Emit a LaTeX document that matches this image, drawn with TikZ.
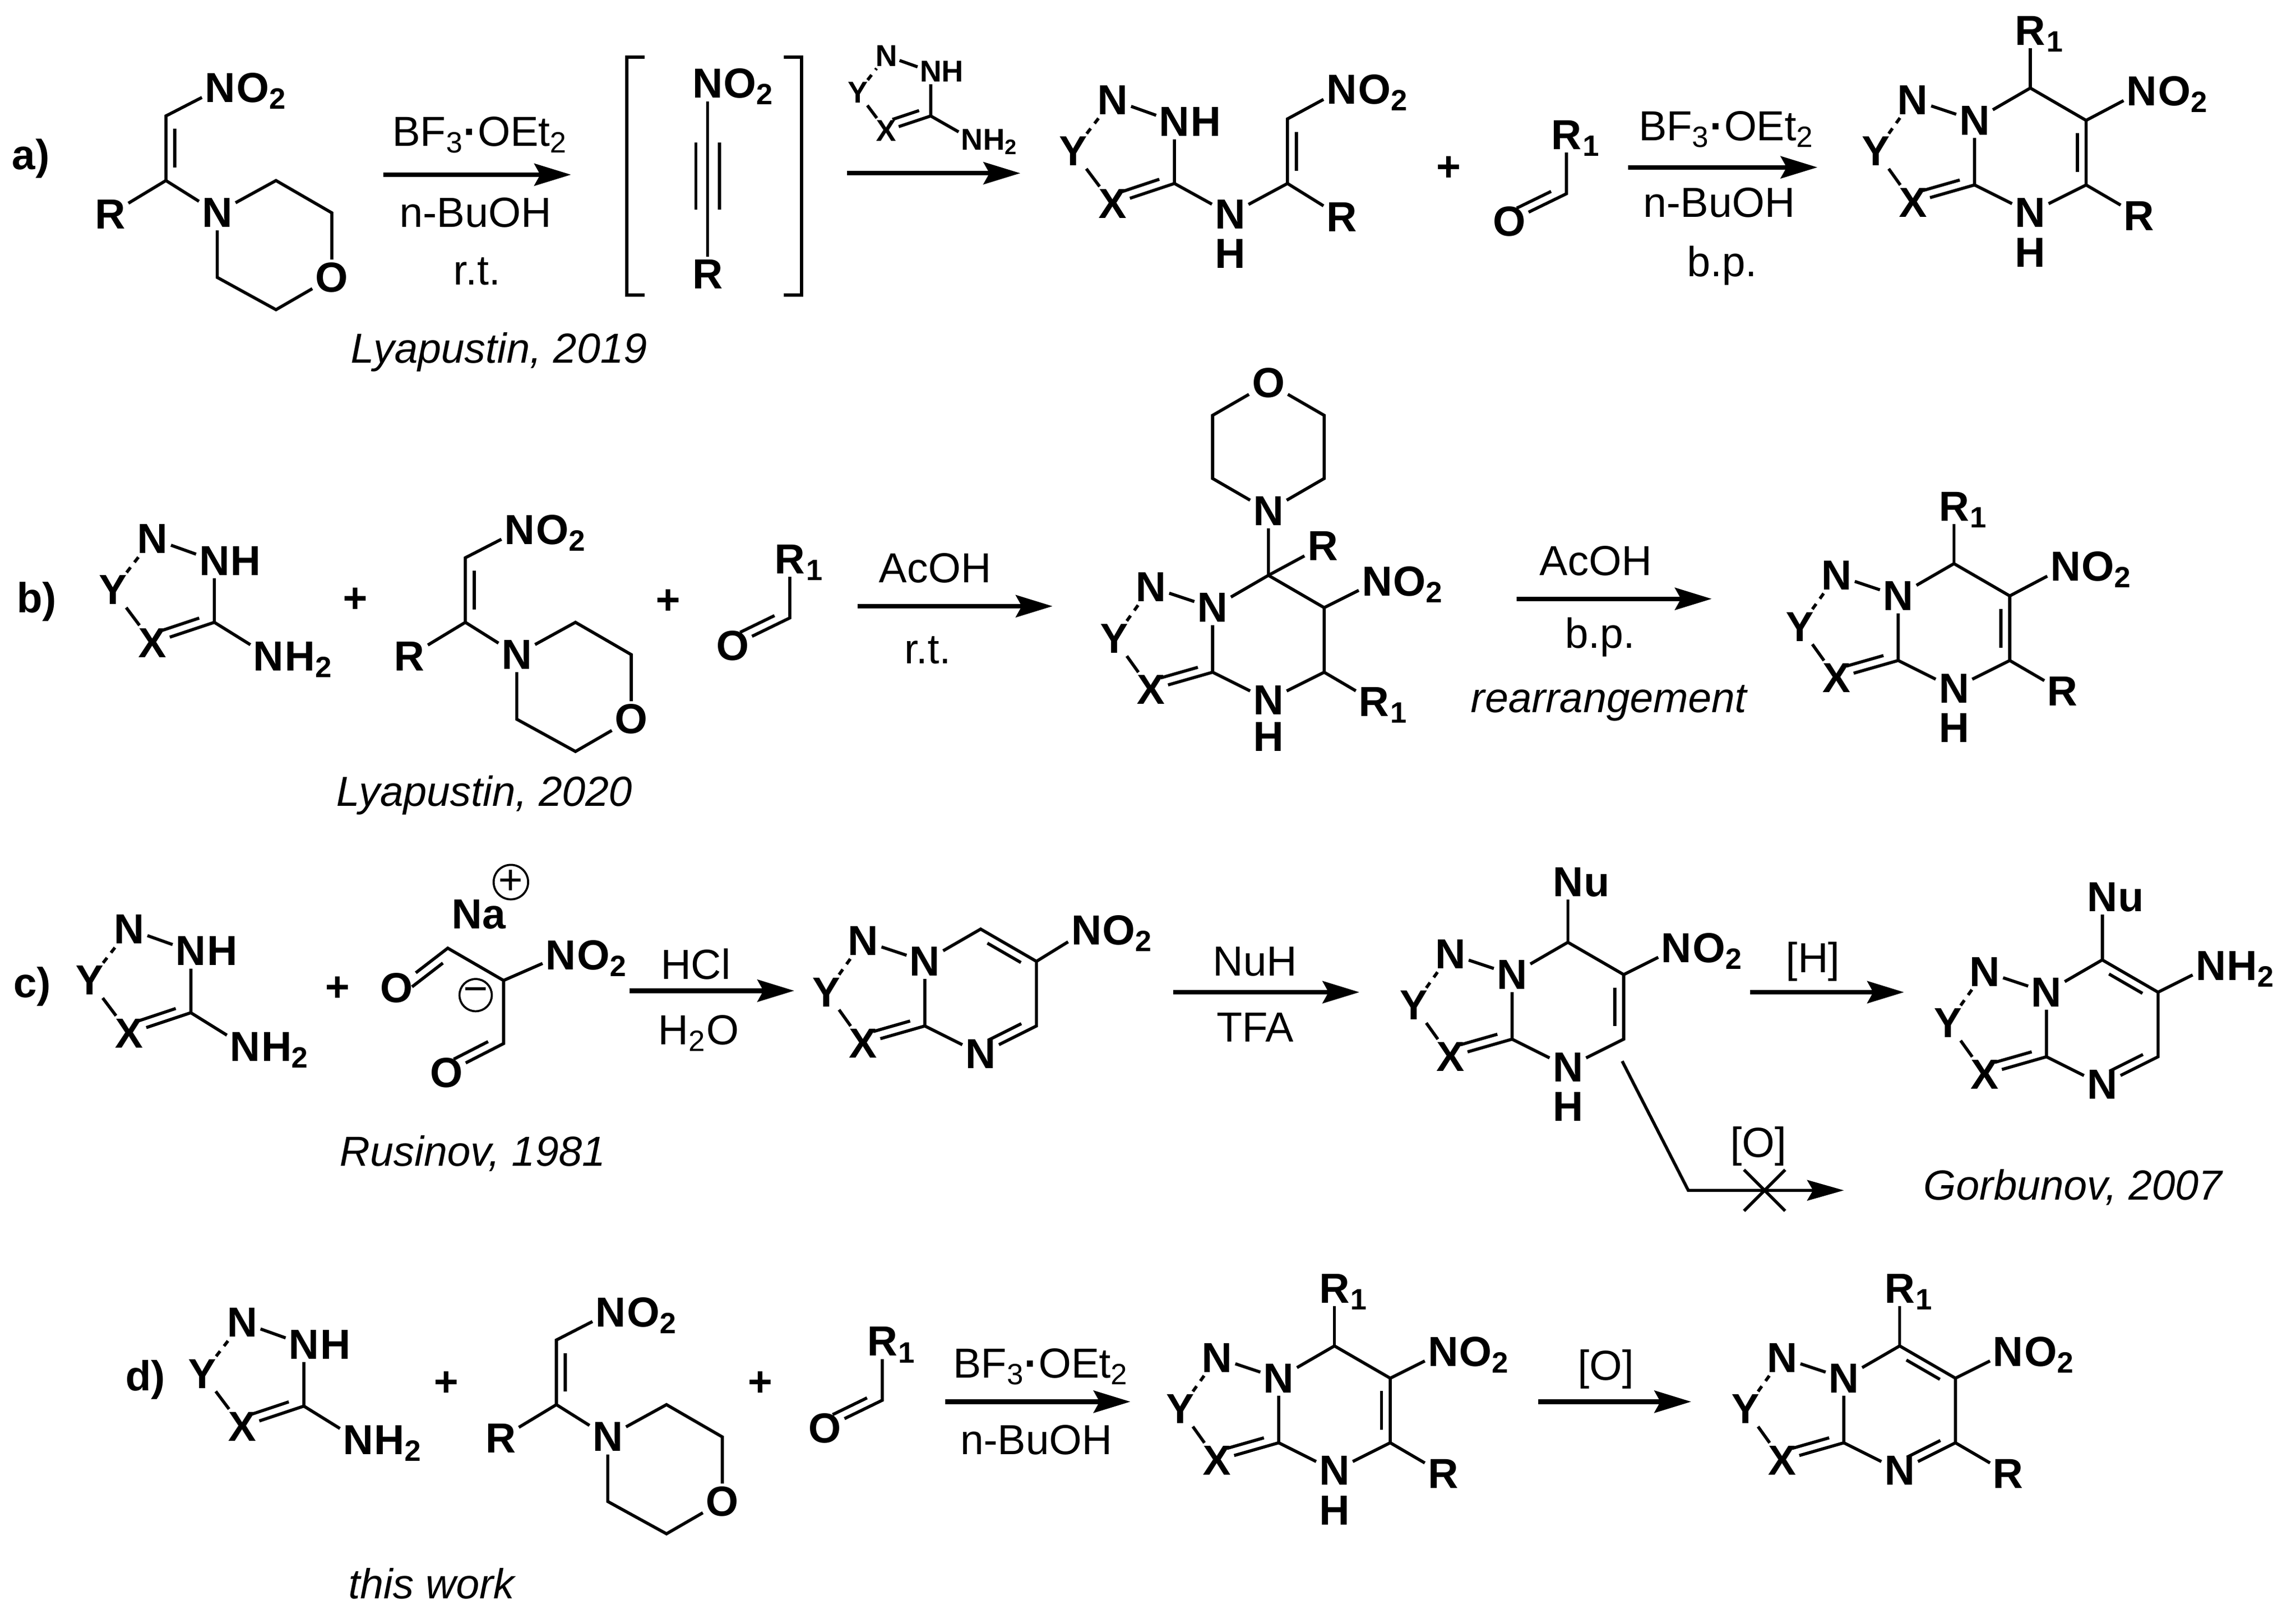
\documentclass[tikz,border=0pt]{standalone}
\usepackage{fontspec}
\setmainfont{Liberation Sans}
\usetikzlibrary{calc,arrows.meta}
\newcommand\fs{\fontsize{16.3}{19}\selectfont}
\newcommand\fss{\fontsize{11.7}{14}\selectfont}
\tikzset{
 atom/.style={font=\fs\bfseries,inner sep=1pt},
 satom/.style={font=\fss\bfseries,inner sep=0.7pt},
 tx/.style={font=\fs,inner sep=1pt},
 itx/.style={font=\fs\itshape,inner sep=1pt},
 bond/.style={line width=1.2pt},
 dbond/.style={line width=1.2pt,dash pattern=on 2.5pt off 2.5pt},
 rxn/.style={line width=1.8pt,-{Stealth[length=0.5cm,width=0.3cm,inset=0.08cm]}},
 charge/.style={circle,draw,line width=0.8pt,inner sep=0pt,minimum size=0.44cm,font=\fs}
}
\newcommand\tail[3][atom]{\node[#1,anchor=base west,inner sep=0pt] at ([xshift=-1pt]#2.base east) {#3};}
\newcommand\dbl[3]{\draw[bond] ($(#1)!.2!(#2)!0.12cm!#3:(#2)$) -- ($(#1)!.8!(#2)!0.12cm!#3:(#2)$);}
% triazole: prefix, x, y, scale, style
\newcommand\triaz[5]{%
 \begin{scope}[shift={(#2,#3)},scale=#4]
 \coordinate (#1C) at (0,0);
 \node[#5] (#1Nh) at (0,-42) {N};
 \node[#5] (#1Nt) at (-42,-57) {N};
 \node[#5] (#1Y) at (-69,-22) {Y};
 \node[#5] (#1X) at (-42,14) {X};
 \end{scope}
 \tail[#5]{#1Nh}{H}
 \draw[bond] (#1Nt)--(#1Nh)--(#1C)--(#1X)--(#1Y);
 \draw[dbond] (#1Y)--(#1Nt);
 \dbl{#1X}{#1C}{90}}
% fused bicycle: prefix, x, y of bridge N
\newcommand\fused[3]{%
 \begin{scope}[shift={(#2,#3)}]
 \node[atom] (#1Nb) at (0,0) {N};
 \node[atom] (#1Nt) at (-42,-14) {N};
 \node[atom] (#1Y) at (-67,21) {Y};
 \node[atom] (#1X) at (-42,56) {X};
 \coordinate (#1Cb) at (0,44);
 \node[atom] (#1N4) at (38,63) {N};
 \coordinate (#1C5) at (76,44);
 \coordinate (#1C6) at (76,0);
 \coordinate (#1C7) at (38,-22);
 \end{scope}
 \draw[bond] (#1Nt)--(#1Nb)--(#1C7)--(#1C6)--(#1C5)--(#1N4)--(#1Cb)--(#1Nb);
 \draw[bond] (#1Y)--(#1X)--(#1Cb);
 \draw[dbond] (#1Y)--(#1Nt);
 \dbl{#1X}{#1Cb}{90}}
% nitroenamine with morpholine: prefix, x, y of C1
\newcommand\nitmor[3]{%
 \begin{scope}[shift={(#2,#3)}]
 \coordinate (#1C1) at (0,0);
 \coordinate (#1C2) at (0,44);
 \node[atom] (#1R) at (-38,67) {R};
 \node[atom] (#1N) at (35,66) {N};
 \node[atom] (#1NO) at (37,-19) {N};
 \coordinate (#1m1) at (75,44);
 \coordinate (#1m2) at (113,66);
 \node[atom] (#1O) at (113,110) {O};
 \coordinate (#1m4) at (75,132);
 \coordinate (#1m5) at (35,110);
 \end{scope}
 \tail{#1NO}{O\textsubscript{2}}
 \draw[bond] (#1NO)--(#1C1)--(#1C2)--(#1R);
 \draw[bond] (#1C2)--(#1N)--(#1m1)--(#1m2)--(#1O)--(#1m4)--(#1m5)--(#1N);
 \dbl{#1C1}{#1C2}{90}}
% aldehyde: prefix, x, y of C
\newcommand\ald[3]{%
 \begin{scope}[shift={(#2,#3)}]
 \coordinate (#1C) at (0,0);
 \node[atom] (#1O) at (-39,19) {O};
 \node[atom] (#1R) at (0,-40) {R};
 \end{scope}
 \tail{#1R}{\textsubscript{1}}
 \draw[bond] (#1R)--(#1C)--(#1O);
 \dbl{#1C}{#1O}{-90}}
\begin{document}
\begin{tikzpicture}[x=0.02cm,y=-0.02cm]
\useasboundingbox (0,0) rectangle (1564,1100);
% ===== a) =====
\node[atom] (la) at (21,108) {a)};
\nitmor{sa}{113}{79}
\coordinate (a1s) at (261,119); \coordinate (a1e) at (389,119);
\draw[rxn] (a1s)--(a1e);
\node[tx] (a1t) at (327,92) {BF\textsubscript{3}{\bfseries·}OEt\textsubscript{2}};
\node[tx] (a1m) at (324,145) {n-BuOH};
\node[tx] (a1b) at (325,185) {r.t.};
\node[itx] (cita) at (340,240) {Lyapustin, 2019};
% alkyne in brackets
\draw[bond] (439,39)--(427,39)--(427,201)--(439,201);
\draw[bond] (534,39)--(546,39)--(546,201)--(534,201);
\node[atom] (alN) at (482,57) {N}; \tail{alN}{O\textsubscript{2}}
\node[atom] (alR) at (482,187) {R};
\draw[bond] (alN)--(alR);
\draw[bond] (474,97)--(474,143); \draw[bond] (490,97)--(490,143);
% arrow 2 with small triazole
\coordinate (a2s) at (577,118); \coordinate (a2e) at (695,118);
\draw[rxn] (a2s)--(a2e);
\triaz{st}{634}{79}{0.72}{satom}
\node[satom] (stN2) at ($(stC)+(28,16)$) {N}; \tail[satom]{stN2}{H\textsubscript{2}}
\draw[bond] (stC)--(stN2);
% intermediate
\triaz{ia}{800}{125}{1}{atom}
\node[atom] (iaN) at (838,146) {N};
\node[atom] (iaH) at (838,173) {H};
\coordinate (iaC1) at (877,125); \coordinate (iaC2) at (877,81);
\node[atom] (iaNO) at (914,61) {N}; \tail{iaNO}{O\textsubscript{2}}
\node[atom] (iaR) at (914,148) {R};
\draw[bond] (iaC)--(iaN)--(iaC1)--(iaC2)--(iaNO);
\draw[bond] (iaC1)--(iaR);
\dbl{iaC2}{iaC1}{90}
\node[atom] (pla) at (987,115) {+};
\ald{aa}{1067}{132}
\coordinate (a3s) at (1109,114); \coordinate (a3e) at (1238,114);
\draw[rxn] (a3s)--(a3e);
\node[tx] (a3t) at (1176,88) {BF\textsubscript{3}{\bfseries·}OEt\textsubscript{2}};
\node[tx] (a3m) at (1171,138) {n-BuOH};
\node[tx] (a3b) at (1173,181) {b.p.};
% product a
\fused{pa}{1345}{82}
\node[atom] (paH) at (1383,172) {H};
\node[atom] (paR1) at (1383,21) {R}; \tail{paR1}{\textsubscript{1}}
\node[atom] (paNO) at (1459,62) {N}; \tail{paNO}{O\textsubscript{2}}
\node[atom] (paR) at (1457,147) {R};
\draw[bond] (paC7)--(paR1); \draw[bond] (paC6)--(paNO); \draw[bond] (paC5)--(paR);
\dbl{paC6}{paC5}{-90}
% ===== b) =====
\node[atom] (lb) at (25,410) {b)};
\triaz{tb}{146}{424}{1}{atom}
\node[atom] (tbN2) at ($(tbC)+(37,23)$) {N}; \tail{tbN2}{H\textsubscript{2}}
\draw[bond] (tbC)--(tbN2);
\node[atom] (plb1) at (242,409) {+};
\nitmor{sb}{317}{380}
\node[atom] (plb2) at (455,410) {+};
\ald{ab}{538}{421}
\coordinate (b1s) at (584,413); \coordinate (b1e) at (717,413);
\draw[rxn] (b1s)--(b1e);
\node[tx] (b1t) at (637,387) {AcOH};
\node[tx] (b1b) at (632,443) {r.t.};
\node[itx] (citb) at (330,542) {Lyapustin, 2020};
% intermediate b
\fused{ib}{826}{414}
\node[atom] (ibH) at (864,502) {H};
\node[atom] (ibR) at (901,372) {R};
\node[atom] (ibNO) at (938,396) {N}; \tail{ibNO}{O\textsubscript{2}}
\node[atom] (ibR1) at (936,478) {R}; \tail{ibR1}{\textsubscript{1}}
\node[atom] (ibM) at (864,348) {N};
\coordinate (ibm1) at (826,326); \coordinate (ibm2) at (826,283);
\node[atom] (ibO) at (864,261) {O};
\coordinate (ibm4) at (902,283); \coordinate (ibm5) at (902,326);
\draw[bond] (ibC7)--(ibR); \draw[bond] (ibC6)--(ibNO); \draw[bond] (ibC5)--(ibR1);
\draw[bond] (ibC7)--(ibM)--(ibm1)--(ibm2)--(ibO)--(ibm4)--(ibm5)--(ibM);
\coordinate (b2s) at (1033,408); \coordinate (b2e) at (1166,408);
\draw[rxn] (b2s)--(b2e);
\node[tx] (b2t) at (1087,382) {AcOH};
\node[tx] (b2b) at (1090,434) {b.p.};
\node[itx] (b2c) at (1096,479) {rearrangement};
% product b
\fused{pb}{1293}{406}
\node[atom] (pbH) at (1331,496) {H};
\node[atom] (pbR1) at (1331,345) {R}; \tail{pbR1}{\textsubscript{1}}
\node[atom] (pbNO) at (1407,386) {N}; \tail{pbNO}{O\textsubscript{2}}
\node[atom] (pbR) at (1405,471) {R};
\draw[bond] (pbC7)--(pbR1); \draw[bond] (pbC6)--(pbNO); \draw[bond] (pbC5)--(pbR);
\dbl{pbC6}{pbC5}{-90}
% ===== c) =====
\node[atom] (lc) at (22,672) {c)};
\triaz{tc}{130}{690}{1}{atom}
\node[atom] (tcN2) at ($(tcC)+(37,23)$) {N}; \tail{tcN2}{H\textsubscript{2}}
\draw[bond] (tcC)--(tcN2);
\node[atom] (plc) at (230,674) {+};
\node[atom] (na) at (326,623) {Na};
\node[charge] (chp) at (348,601) {+};
\coordinate (sCa) at (305,646); \coordinate (sCc) at (343,668); \coordinate (sCb) at (343,711);
\node[atom] (sO1) at (270,673) {O};
\node[atom] (sO2) at (304,731) {O};
\node[atom] (sNO) at (382,651) {N}; \tail{sNO}{O\textsubscript{2}}
\node[charge] (chm) at (324,678) {−};
\draw[bond] (sO1)--(sCa)--(sCc)--(sCb)--(sO2);
\draw[bond] (sCc)--(sNO);
\dbl{sCa}{sO1}{90}
\dbl{sCb}{sO2}{-90}
\coordinate (c1s) at (429,675); \coordinate (c1e) at (541,675);
\draw[rxn] (c1s)--(c1e);
\node[tx] (c1t) at (474,657) {HCl};
\node[tx] (c1b) at (476,704) {H\textsubscript{2}O};
\node[itx] (citc) at (322,786) {Rusinov, 1981};
% product c1
\fused{pc}{630}{655}
\node[atom] (pcNO) at (740,634) {N}; \tail{pcNO}{O\textsubscript{2}}
\draw[bond] (pcC6)--(pcNO);
\dbl{pcC7}{pcC6}{-90}
\dbl{pcC5}{pcN4}{-90}
\coordinate (c2s) at (799,676); \coordinate (c2e) at (926,676);
\draw[rxn] (c2s)--(c2e);
\node[tx] (c2t) at (855,655) {NuH};
\node[tx] (c2b) at (855,700) {TFA};
% product c2
\fused{pd}{1030}{664}
\node[atom] (pdH) at (1068,754) {H};
\node[atom] (pdNu) at (1068,601) {N}; \tail{pdNu}{u}
\node[atom] (pdNO) at (1142,646) {N}; \tail{pdNO}{O\textsubscript{2}}
\draw[bond] (pdC7)--(pdNu); \draw[bond] (pdC6)--(pdNO);
\dbl{pdC6}{pdC5}{-90}
\coordinate (c3s) at (1192,676); \coordinate (c3e) at (1297,676);
\draw[rxn] (c3s)--(c3e);
\node[tx] (c3t) at (1235,655) {[H]};
% crossed arrow
\coordinate (xs) at (1105,723); \coordinate (xm) at (1150,811); \coordinate (xe) at (1256,811);
\draw[bond,-{Stealth[length=0.5cm,width=0.28cm,inset=0.08cm]}] (xs)--(xm)--(xe);
\draw[bond] (1188,797)--(1216,825); \draw[bond] (1188,825)--(1216,797);
\node[tx] (xo) at (1198,781) {[O]};
\node[itx] (citg) at (1412,809) {Gorbunov, 2007};
% product c3
\fused{pe}{1394}{676}
\node[atom] (peNu) at (1432,611) {N}; \tail{peNu}{u}
\node[atom] (peN2) at (1506,658) {N}; \tail{peN2}{H\textsubscript{2}}
\draw[bond] (peC7)--(peNu); \draw[bond] (peC6)--(peN2);
\dbl{peC7}{peC6}{-90}
\dbl{peC5}{peN4}{-90}
% ===== d) =====
\node[atom] (ld) at (99,940) {d)};
\triaz{td}{207}{958}{1}{atom}
\node[atom] (tdN2) at ($(tdC)+(37,23)$) {N}; \tail{tdN2}{H\textsubscript{2}}
\draw[bond] (tdC)--(tdN2);
\node[atom] (pld1) at (304,943) {+};
\nitmor{sd}{379}{913}
\node[atom] (pld2) at (518,943) {+};
\ald{ad}{601}{954}
\coordinate (d1s) at (644,955); \coordinate (d1e) at (770,955);
\draw[rxn] (d1s)--(d1e);
\node[tx] (d1t) at (709,931) {BF\textsubscript{3}{\bfseries·}OEt\textsubscript{2}};
\node[tx] (d1b) at (706,981) {n-BuOH};
\node[itx] (citd) at (294,1079) {this work};
% product d1
\fused{pf}{871}{939}
\node[atom] (pfH) at (909,1029) {H};
\node[atom] (pfR1) at (909,878) {R}; \tail{pfR1}{\textsubscript{1}}
\node[atom] (pfNO) at (983,921) {N}; \tail{pfNO}{O\textsubscript{2}}
\node[atom] (pfR) at (983,1004) {R};
\draw[bond] (pfC7)--(pfR1); \draw[bond] (pfC6)--(pfNO); \draw[bond] (pfC5)--(pfR);
\dbl{pfC6}{pfC5}{-90}
\coordinate (d2s) at (1048,955); \coordinate (d2e) at (1152,955);
\draw[rxn] (d2s)--(d2e);
\node[tx] (d2t) at (1094,933) {[O]};
% product d2
\fused{pg}{1256}{939}
\node[atom] (pgR1) at (1294,878) {R}; \tail{pgR1}{\textsubscript{1}}
\node[atom] (pgNO) at (1368,921) {N}; \tail{pgNO}{O\textsubscript{2}}
\node[atom] (pgR) at (1368,1004) {R};
\draw[bond] (pgC7)--(pgR1); \draw[bond] (pgC6)--(pgNO); \draw[bond] (pgC5)--(pgR);
\dbl{pgC7}{pgC6}{-90}
\dbl{pgC5}{pgN4}{-90}
\end{tikzpicture}
\end{document}
